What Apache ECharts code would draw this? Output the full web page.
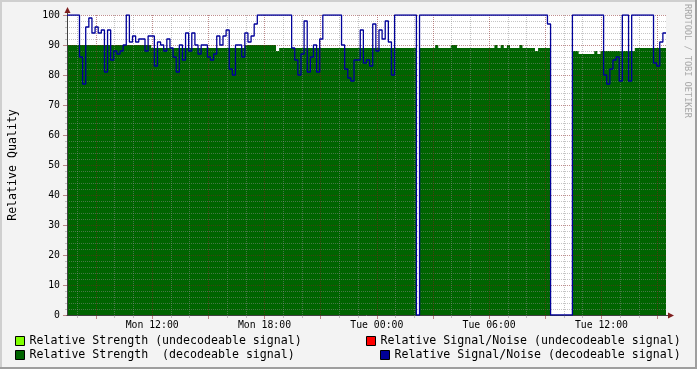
<!DOCTYPE html>
<html><head><meta charset="utf-8">
<script src="https://cdn.jsdelivr.net/npm/echarts@6/dist/echarts.min.js"></script>
<style>html,body{margin:0;padding:0;background:#f3f3f3}#c{width:697px;height:369px}</style>
</head><body><div id="c"></div>
<script>
// time axis in hours since Monday 00:00
const startHour = 7.45;
const endHour = 39.45;
const stepHours = 1 / 6; // 10 minute samples

const strength = [
  90,90,90,90,90,90,90,90,90,90,
  90,90,90,90,90,90,90,90,90,90,
  90,90,90,90,90,90,90,89,89,89,
  89,89,89,89,89,89,89,89,89,89,
  89,89,89,89,89,89,89,89,89,89,
  89,89,89,89,89,89,89,90,90,90,
  90,90,90,90,90,90,90,88,89,89,
  89,89,89,89,89,89,89,89,89,89,
  89,89,89,89,89,89,89,89,89,89,
  89,89,89,89,89,89,89,89,89,89,
  89,89,89,89,89,89,89,89,89,89,
  89,89,0,89,89,89,89,89,90,89,
  89,89,89,90,90,89,89,89,89,89,
  89,89,89,89,89,89,89,90,89,90,
  89,90,89,89,89,90,89,89,89,89,
  88,89,89,89,89,0,0,0,0,0,
  0,0,88,88,87,87,87,87,87,88,
  87,88,88,88,88,88,88,88,88,88,
  88,88,89,89,89,89,89,89,89,89,
  89,89
];

const snr = [
  100,100,100,100,86,77,96,99,94,96,
  94,95,81,95,85,88,87,88,90,100,
  91,93,91,92,92,88,93,93,83,91,
  90,88,92,89,86,81,90,85,94,88,
  94,90,87,90,90,86,85,87,93,90,
  93,95,82,80,90,90,86,94,91,93,
  97,100,100,100,100,100,100,100,100,100,
  100,100,89,85,80,87,98,81,86,90,
  81,92,100,100,100,100,100,100,90,82,
  79,78,85,85,95,84,85,83,97,88,
  95,92,98,91,80,100,100,100,100,100,
  100,100,0,100,100,100,100,100,100,100,
  100,100,100,100,100,100,100,100,100,100,
  100,100,100,100,100,100,100,100,100,100,
  100,100,100,100,100,100,100,100,100,100,
  100,100,100,100,97,0,0,0,0,0,
  0,0,100,100,100,100,100,100,100,100,
  100,100,80,77,82,85,86,78,100,100,
  78,100,100,100,100,100,100,100,84,83,
  91,94
];

const minorHours = [8,10,11,13,14,16,17,19,20,22,23,25,26,28,29,31,32,34,35,37,38];
const majorHours = [9,12,15,18,21,24,27,30,33,36,39];
const labelHours = [12,18,24,30,36];
const labelTexts = ['Mon 12:00','Mon 18:00','Tue 00:00','Tue 06:00','Tue 12:00'];

const seriesNames = [
  'Relative Strength (undecodeable signal)',
  'Relative Signal/Noise (undecodeable signal)',
  'Relative Strength  (decodeable signal)',
  'Relative Signal/Noise (decodeable signal)'
];

function toPairs(values) {
  const out = values.map((v, i) => [startHour + i * stepHours, v]);
  out.push([endHour, values[values.length - 1]]);
  return out;
}

const FONT = 'DejaVu Sans Mono';
const GRID_C = 'rgba(140,140,140,0.5)';
const MGRID_C = 'rgba(130,30,30,0.5)';

const chart = echarts.init(document.getElementById('c'), null, {renderer: 'canvas'});

function legendAt(name, left, top) {
  return {
    data: [name], left: left, top: top, padding: 0, itemGap: 0,
    icon: 'rect', itemWidth: 9, itemHeight: 9, selectedMode: false,
    itemStyle: {borderColor: '#000', borderWidth: 1},
    textStyle: {fontFamily: FONT, fontSize: 11.6, color: '#000', lineHeight: 14}
  };
}

const option = {
  backgroundColor: '#f3f3f3',
  animation: false,
  grid: {left: 67, top: 15, right: 31, bottom: 54, show: true, backgroundColor: '#ffffff', borderWidth: 0,
         containLabel: false, outerBoundsMode: 'none'},
  legend: [
    legendAt(seriesNames[0], 15, 334),
    legendAt(seriesNames[1], 366, 334),
    legendAt(seriesNames[2], 15, 348),
    legendAt(seriesNames[3], 380, 348)
  ],
  xAxis: [
    {
      type: 'value', min: startHour, max: endHour, position: 'bottom', z: 10,
      axisLine: {show: true, lineStyle: {color: '#404040', width: 1}},
      axisTick: {show: true, length: 3, customValues: minorHours, lineStyle: {color: GRID_C}},
      splitLine: {show: true, lineStyle: {color: GRID_C, type: [1, 1], width: 1}},
      axisLabel: {
        customValues: labelHours, margin: 5,
        fontFamily: FONT, fontSize: 9.8, color: '#000',
        formatter: function (v) { const k = labelHours.indexOf(Math.round(v)); return k >= 0 ? labelTexts[k] : ''; }
      }
    },
    {
      type: 'value', min: startHour, max: endHour, position: 'bottom', z: 11, offset: 0,
      axisLine: {show: false},
      axisTick: {show: true, length: 4, customValues: majorHours, lineStyle: {color: MGRID_C}},
      splitLine: {show: true, lineStyle: {color: MGRID_C, type: [1, 1], width: 1}},
      axisLabel: {show: false}
    }
  ],
  yAxis: {
    type: 'value', min: 0, max: 100, interval: 10, z: 10,
    name: 'Relative Quality', nameLocation: 'middle', nameGap: 48,
    nameTextStyle: {fontFamily: FONT, fontSize: 11.6, color: '#000'},
    axisLine: {show: true, lineStyle: {color: '#404040', width: 1}},
    axisTick: {show: true, length: 4, lineStyle: {color: MGRID_C}},
    minorTick: {show: true, splitNumber: 5, length: 2, lineStyle: {color: GRID_C}},
    splitLine: {show: true, lineStyle: {color: MGRID_C, type: [1, 1], width: 1}},
    minorSplitLine: {show: true, lineStyle: {color: GRID_C, type: [1, 1], width: 1}},
    axisLabel: {margin: 7, fontFamily: FONT, fontSize: 9.8, color: '#000'}
  },
  series: [
    {name: seriesNames[0], type: 'line', data: [], color: '#80ff00', showSymbol: false},
    {name: seriesNames[1], type: 'line', data: [], color: '#ff0000', showSymbol: false},
    {
      name: seriesNames[2], type: 'line', step: 'end', data: toPairs(strength),
      color: '#006400', showSymbol: false, z: 2,
      lineStyle: {width: 0}, areaStyle: {color: '#006400', opacity: 1}
    },
    {
      name: seriesNames[3], type: 'line', step: 'end', data: toPairs(snr),
      color: '#000099', showSymbol: false, z: 20,
      lineStyle: {width: 1.3, color: '#000099'}
    }
  ]
};
chart.setOption(option);

// decorations: frame, axis arrows, watermark
const origin = chart.convertToPixel({xAxisIndex: 0, yAxisIndex: 0}, [startHour, 0]);
const topRight = chart.convertToPixel({xAxisIndex: 0, yAxisIndex: 0}, [endHour, 100]);
const ox = Math.round(origin[0]), oy = Math.round(origin[1]);
const tx = Math.round(topRight[0]), ty = Math.round(topRight[1]);
chart.setOption({
  graphic: [
    {type: 'rect', shape: {x: 0, y: 0, width: 697, height: 2}, style: {fill: '#cfcfcf'}, z: 100},
    {type: 'rect', shape: {x: 0, y: 0, width: 2, height: 369}, style: {fill: '#cfcfcf'}, z: 100},
    {type: 'rect', shape: {x: 0, y: 367, width: 697, height: 2}, style: {fill: '#9e9e9e'}, z: 101},
    {type: 'rect', shape: {x: 695, y: 0, width: 2, height: 369}, style: {fill: '#9e9e9e'}, z: 101},
    {type: 'line', shape: {x1: ox + 0.5, y1: ty, x2: ox + 0.5, y2: ty - 3}, style: {stroke: '#404040', lineWidth: 1}, z: 50},
    {type: 'polygon', shape: {points: [[ox - 2.5, ty - 2], [ox + 3.5, ty - 2], [ox + 0.5, ty - 8]]}, style: {fill: '#7f1f1f'}, z: 50},
    {type: 'line', shape: {x1: tx, y1: oy + 0.5, x2: tx + 3, y2: oy + 0.5}, style: {stroke: '#404040', lineWidth: 1}, z: 50},
    {type: 'polygon', shape: {points: [[tx + 2, oy - 2.5], [tx + 2, oy + 3.5], [tx + 8, oy + 0.5]]}, style: {fill: '#7f1f1f'}, z: 50},
    {
      type: 'text', x: 683, y: 4, rotation: -Math.PI / 2, z: 50,
      style: {text: 'RRDTOOL / TOBI OETIKER', fontFamily: FONT, fontSize: 8.6, fill: '#a8a8a8', align: 'left', verticalAlign: 'bottom'}
    }
  ]
});
</script>
</body></html>
